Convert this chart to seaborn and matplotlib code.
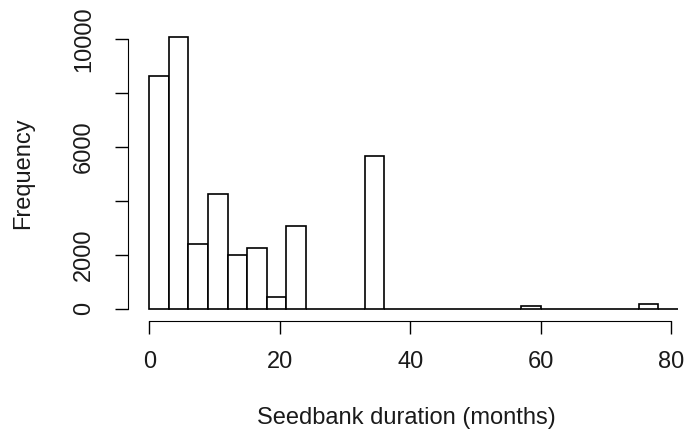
import numpy as np
import seaborn as sns
import matplotlib.pyplot as plt

# histogram bins (width 3 months) and counts
bin_edges = list(range(0, 82, 3))
counts = [8630, 10060, 2410, 4250, 1990, 2250, 430, 3080,
          0, 0, 0, 5650, 0, 0, 0, 0, 0, 0, 0, 110,
          0, 0, 0, 0, 0, 160, 0]
x_ticks = [0, 20, 40, 60, 80]
y_ticks = [0, 2000, 4000, 6000, 8000, 10000]
y_labels = ['0', '2000', '', '6000', '', '10000']

sns.set_style('white')
plt.rcParams['font.family'] = ['Liberation Sans', 'DejaVu Sans']

centers = [(bin_edges[i] + bin_edges[i + 1]) / 2 for i in range(len(counts))]

fig = plt.figure(figsize=(6.9, 4.34), dpi=100)
ax = fig.add_axes([0.186, 0.264, 0.806, 0.675])

sns.histplot(x=centers, weights=counts, bins=bin_edges, ax=ax,
             color='white', edgecolor='black', linewidth=1.2, alpha=1)

ax.set_xlim(-3.2, 82)
ax.set_ylim(-402, 10462)

for s in ['top', 'right']:
    ax.spines[s].set_visible(False)
ax.spines['left'].set_bounds(0, 10000)
ax.spines['bottom'].set_bounds(0, 80)
ax.spines['left'].set_color('black')
ax.spines['bottom'].set_color('black')
ax.spines['bottom'].set_position(('outward', 1))

ax.set_xticks(x_ticks)
ax.set_yticks(y_ticks)
ax.set_yticklabels(y_labels, rotation=90, va='center')
ax.tick_params(axis='both', direction='out', length=9.5, width=1,
               color='black', labelsize=17, labelcolor='#1a1a1a',
               left=True, bottom=True)
ax.tick_params(axis='x', pad=12)
ax.tick_params(axis='y', pad=14.5)

ax.set_xlabel('Seedbank duration (months)', fontsize=17, labelpad=25, color='#1a1a1a')
ax.set_ylabel('Frequency', fontsize=17, labelpad=28, color='#1a1a1a')

fig.savefig('out.png', dpi=100)
